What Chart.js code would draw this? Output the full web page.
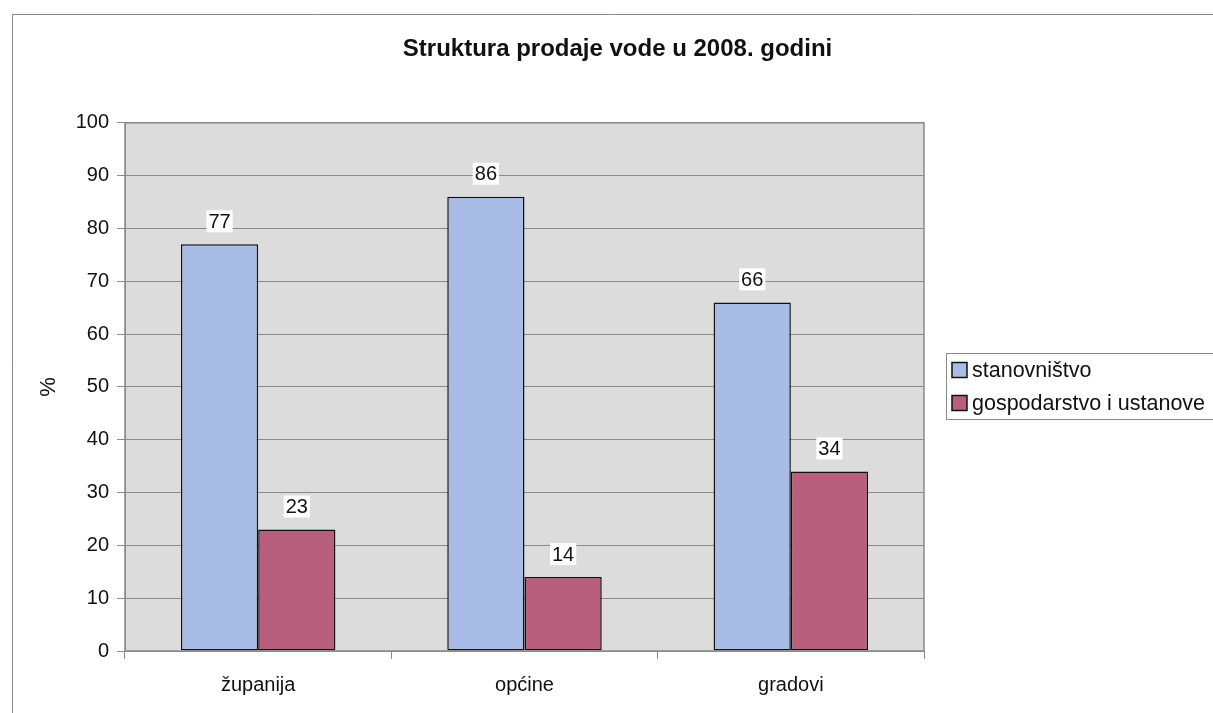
<!DOCTYPE html>
<html><head><meta charset="utf-8">
<script src="https://cdn.jsdelivr.net/npm/chart.js@4.4.1/dist/chart.umd.min.js"></script>
<style>html,body{margin:0;padding:0;background:#fff}#wrap{width:1213px;height:713px;position:relative}</style>
</head><body><div id="wrap"><canvas id="c" width="1213" height="713"></canvas></div>
<script>
const titleText = 'Struktura prodaje vode u 2008. godini';
const categories = ['županija', 'općine', 'gradovi'];
const seriesNames = ['stanovništvo', 'gospodarstvo i ustanove'];
const stanovnistvo = [77, 86, 66];
const gospodarstvo = [23, 14, 34];
const yTickValues = [0, 10, 20, 30, 40, 50, 60, 70, 80, 90, 100];
const yAxisTitle = '%';

const FONT = "'Liberation Sans', Arial, sans-serif";
const BLUE = '#a9bce6';
const RED = '#b95f7e';

const framePlugin = {
  id: 'frame',
  beforeDraw(chart) {
    const {ctx, chartArea: a} = chart;
    ctx.save();
    ctx.fillStyle = '#dcdcdc';
    ctx.fillRect(a.left, a.top, a.right - a.left, a.bottom - a.top);
    ctx.strokeStyle = '#8a8a8a';
    ctx.lineWidth = 1;
    ctx.beginPath();
    ctx.moveTo(12.5, 713);
    ctx.lineTo(12.5, 14.5);
    ctx.lineTo(1213, 14.5);
    ctx.stroke();
    ctx.restore();
  },
  afterDraw(chart) {
    const {ctx, chartArea: a} = chart;
    ctx.save();
    ctx.strokeStyle = '#8a8a8a';
    ctx.lineWidth = 1.5;
    ctx.strokeRect(a.left, a.top, a.right - a.left, a.bottom - a.top);
    // legend
    const lx = 946.5, ly = 353.5, lh = 66;
    ctx.fillStyle = '#fff';
    ctx.fillRect(lx, ly, 1216 - lx, lh);
    ctx.strokeStyle = '#8a8a8a';
    ctx.lineWidth = 1;
    ctx.strokeRect(lx, ly, 1216 - lx, lh);
    ctx.font = '21.5px ' + FONT;
    ctx.textBaseline = 'middle';
    chart.data.datasets.forEach((ds, i) => {
      const cy = 370 + i * 33;
      ctx.fillStyle = ds.backgroundColor;
      ctx.fillRect(952, cy - 7.5, 15, 15);
      ctx.strokeStyle = '#111';
      ctx.lineWidth = 1.5;
      ctx.strokeRect(952, cy - 7.5, 15, 15);
      ctx.fillStyle = '#111';
      ctx.fillText(ds.label, 972, cy + 1);
    });
    // data labels
    ctx.font = '20px ' + FONT;
    ctx.textAlign = 'center';
    ctx.textBaseline = 'middle';
    chart.data.datasets.forEach((ds, i) => {
      const meta = chart.getDatasetMeta(i);
      meta.data.forEach((bar, j) => {
        const txt = String(ds.data[j]);
        const w = ctx.measureText(txt).width;
        const cx = bar.x, cy = bar.y - 23;
        ctx.fillStyle = '#fff';
        ctx.fillRect(cx - w / 2 - 2, cy - 11, w + 4, 22);
        ctx.fillStyle = '#111';
        ctx.fillText(txt, cx, cy + 1);
      });
    });
    ctx.restore();
  }
};

new Chart(document.getElementById('c'), {
  type: 'bar',
  data: {
    labels: categories,
    datasets: [
      {label: seriesNames[0], data: stanovnistvo, backgroundColor: BLUE, borderColor: '#111', borderWidth: 1.5, borderSkipped: false},
      {label: seriesNames[1], data: gospodarstvo, backgroundColor: RED, borderColor: '#111', borderWidth: 1.5, borderSkipped: false}
    ]
  },
  options: {
    responsive: false,
    animation: false,
    devicePixelRatio: 1,
    layout: {padding: {left: 22, right: 0, top: 0, bottom: 0}},
    datasets: {bar: {categoryPercentage: 0.58, barPercentage: 1.0}},
    plugins: {
      legend: {display: false},
      tooltip: {enabled: false},
      title: {
        display: true,
        text: titleText,
        color: '#111',
        font: {family: FONT, size: 24, weight: 'bold'},
        padding: {top: 35, bottom: 59}
      }
    },
    scales: {
      x: {
        offset: true,
        grid: {display: true, drawOnChartArea: false, offset: true, tickLength: 8, color: '#8a8a8a'},
        border: {display: true, color: '#8a8a8a'},
        ticks: {color: '#111', font: {family: FONT, size: 20}, padding: 14},
        afterFit(scale) { scale.height = 62; }
      },
      y: {
        min: 0, max: 100,
        afterBuildTicks(scale) { scale.ticks = yTickValues.map(v => ({value: v})); },
        grid: {color: '#8a8a8a', tickLength: 8, lineWidth: 1},
        border: {display: true, color: '#8a8a8a'},
        ticks: {color: '#111', font: {family: FONT, size: 20}, padding: 8},
        title: {display: true, text: yAxisTitle, color: '#111', font: {family: FONT, size: 22}, padding: {top: 14, bottom: 0}},
        afterFit(scale) { scale.width = 103; }
      },
      yRight: {
        position: 'right',
        display: true,
        min: 0, max: 100,
        grid: {display: false, drawOnChartArea: false},
        border: {display: false},
        ticks: {display: false},
        afterFit(scale) { scale.width = 289; }
      }
    }
  },
  plugins: [framePlugin]
});
</script>
</body></html>
